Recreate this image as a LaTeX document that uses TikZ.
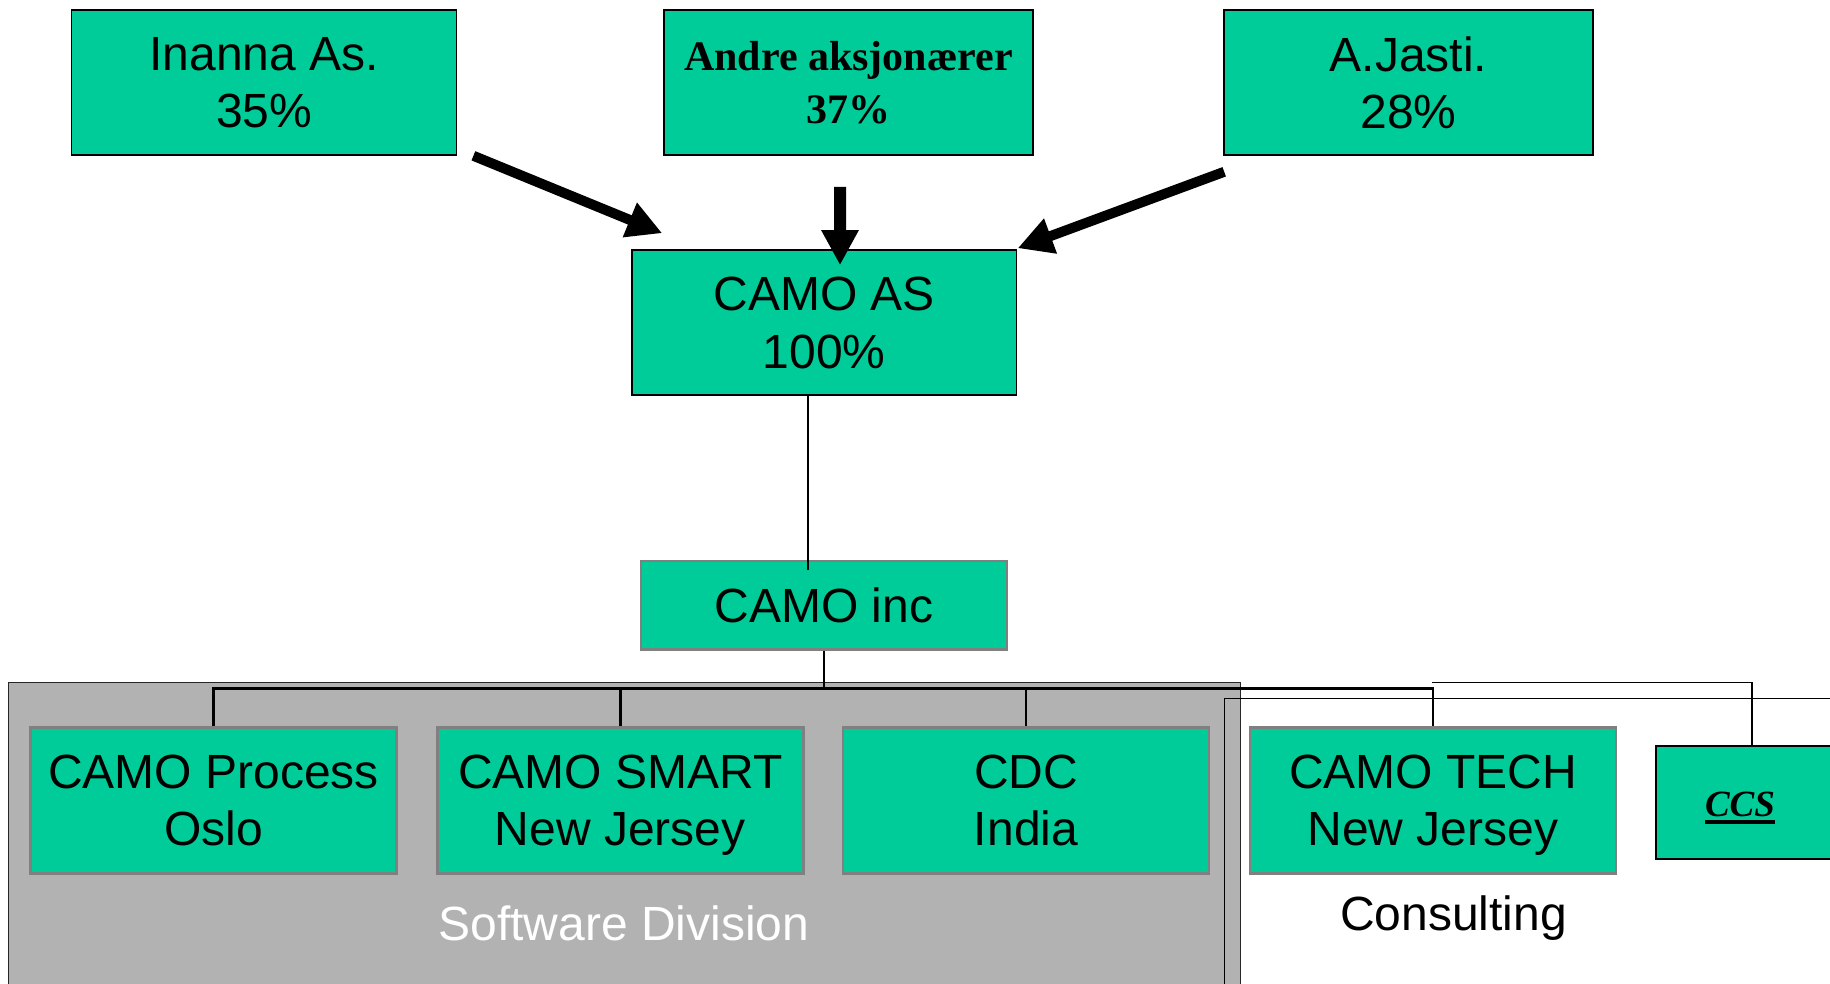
\documentclass[tikz,border=0pt]{standalone}
\usepackage{fontspec}
\setmainfont{Liberation Sans}
\newfontfamily\seriffam{Liberation Serif}
\usetikzlibrary{arrows.meta,calc}
\definecolor{boxgreen}{RGB}{0,204,153}
\definecolor{divgray}{RGB}{178,178,178}
\definecolor{edgegray}{RGB}{128,128,128}
\newcommand\ulbar[1]{\setbox0\hbox{#1}\leavevmode\rlap{\rule[-3.9pt]{\wd0}{1.7pt}}\box0}
\begin{document}
\begin{tikzpicture}[x=0.5pt,y=-0.5pt,
  txt/.style={inner sep=0pt,font=\fontsize{24}{28.6}\selectfont},
  topbox/.style={draw=black,line width=0.8pt,fill=boxgreen,inner sep=0pt,align=center,
     text depth=0pt,font=\fontsize{24}{28.8}\selectfont,minimum height=72.5pt},
  subbox/.style={draw=edgegray,line width=1.3pt,fill=boxgreen,inner sep=0pt,align=center,
     text depth=0pt,font=\fontsize{24}{28.2}\selectfont,minimum width=183pt,minimum height=72.9pt},
  fatarrow/.style={line width=5pt,-{Triangle[length=17.5pt,width=17.5pt]}},
  thinlink/.style={draw=black,line width=0.75pt},
  buslink/.style={draw=black,line width=1.3pt},
  framelink/.style={draw=black,line width=0.6pt}]
\useasboundingbox (0,0) rectangle (1830,984);
\clip (0,0) rectangle (1830,984);

% division backgrounds
\draw[framelink,draw=black!85,fill=divgray] (8.2,682.7) rectangle (1240.3,1010);
\draw[framelink] (1224.7,698.3) rectangle (1900,1100);

% shareholders
\node[topbox,minimum width=192.5pt] (inanna) at (264.1,82.5) {Inanna As.\\35\%};
\node[topbox,minimum width=184.5pt,font=\seriffam\bfseries\fontsize{21}{26.7}\selectfont] (andre) at (848.5,82.5) {Andre aksjonærer\\37\%};
\node[topbox,minimum width=184.5pt] (jasti) at (1408.5,82.5) {A.Jasti.\\28\%};

% holding
\node[topbox,minimum width=192.3pt] (camoas) at (824.3,322.5) {CAMO AS\\100\%};
\node[subbox,minimum height=44.2pt] (camoinc) at (824,605.2) {CAMO inc};

% subsidiaries
\node[subbox] (process) at (213.6,800.4) {CAMO Process\\Oslo};
\node[subbox] (smart) at (620.3,800.4) {CAMO SMART\\New Jersey};
\node[subbox] (cdc) at (1026,800.4) {CDC\\India};
\node[subbox] (tech) at (1433,800.4) {CAMO TECH\\New Jersey};
\node[draw=black,line width=0.8pt,fill=boxgreen,inner sep=0pt,minimum width=122pt,minimum height=56.5pt] (ccs) at (1778,802.5) {};
\node[inner sep=0pt,anchor=base,font=\seriffam\bfseries\itshape\fontsize{18.5}{22}\selectfont] (ccstext) at (1740,816) {\ulbar{CCS}};

% division labels
\node[txt,anchor=base,text=white] (swlabel) at (624,940) {Software Division};
\node[txt,anchor=base] (conslabel) at (1453.6,930) {Consulting};

% ownership arrows
\draw[fatarrow] ($(inanna.south east)+(16,0)$) -- ($(camoas.north west)+(31,-16)$);
\draw[fatarrow,line width=6pt] ($(andre.south)+(-8.5,31)$) -- ($(camoas.north)+(15.7,16)$);
\draw[fatarrow] ($(jasti.south west)+(1,16)$) -- ($(camoas.north east)+(0.3,-1)$);

% organisation links
\draw[thinlink] ($(camoas.south)+(-16.3,0)$) -- ($(camoinc.north)+(-16,10)$);
\coordinate (bus) at (823.3,688.3);
\draw[buslink] (camoinc.south) -- (camoinc.south |- bus);
\draw[buslink] (process.north) -- (process.north |- bus) -- (tech.north |- bus) -- (tech.north);
\draw[buslink] (smart.north) -- (smart.north |- bus);
\draw[buslink] (cdc.north) -- (cdc.north |- bus);
\coordinate (ccsin) at ($(ccs.north west)+(96.7,0)$);
\coordinate (ccsbus) at (1432,682.7);
\draw[thinlink,line width=0.6pt] (ccsbus) -- (ccsbus -| ccsin) -- (ccsin);
\end{tikzpicture}
\end{document}
